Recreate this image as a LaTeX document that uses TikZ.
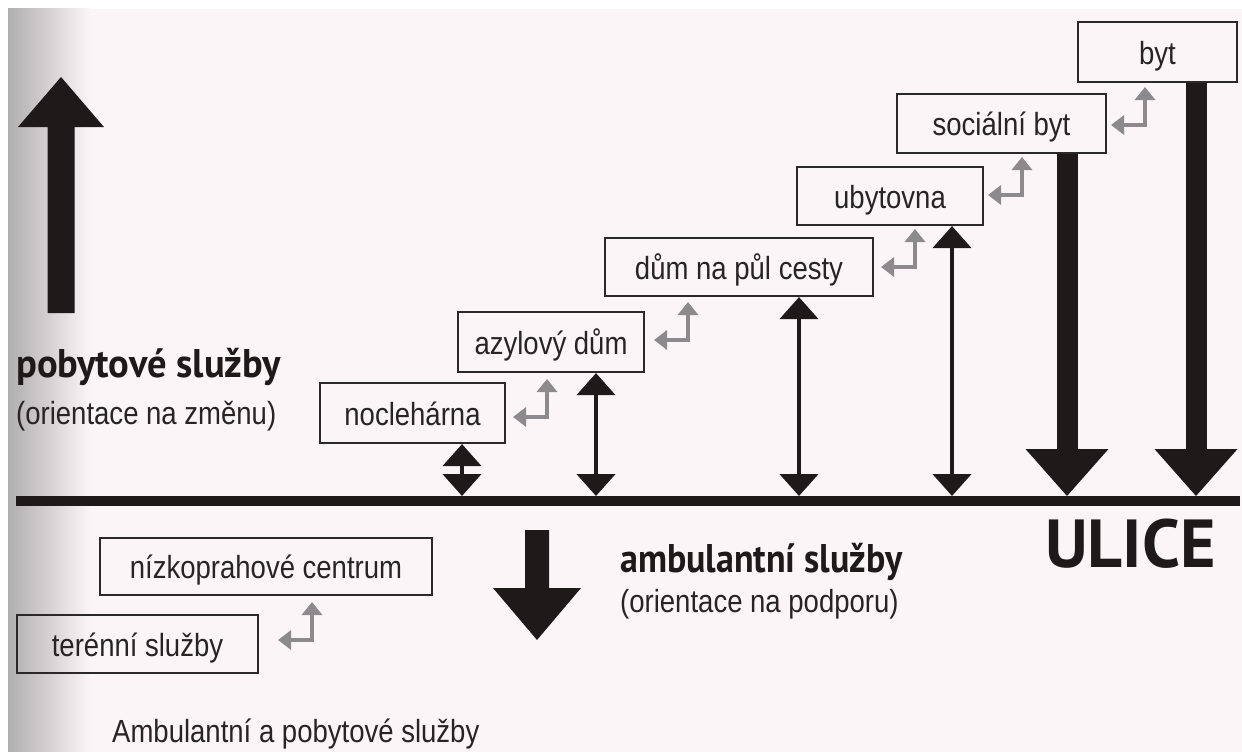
\documentclass[tikz,border=0pt]{standalone}
\usepackage{fontspec}
\setmainfont{Liberation Sans}
\newfontfamily\labelfont[FakeStretch=0.86]{Liberation Sans}
\newfontfamily\headfont[FakeStretch=0.9]{PT Sans}
\newfontfamily\ulicefont{PT Sans}
\usetikzlibrary{arrows.meta,calc}
\definecolor{bg}{RGB}{251,245,248}
\definecolor{ink}{RGB}{30,26,26}
\definecolor{boxline}{RGB}{42,40,40}
\definecolor{txt}{RGB}{40,36,36}
\definecolor{elbowgray}{RGB}{140,138,140}
\definecolor{edgegray}{RGB}{176,174,174}
\tikzset{
  svc/.style={draw=boxline, line width=2.2pt, inner sep=0pt, text=txt,
    font=\labelfont\fontsize{32}{34}\selectfont, text height=24pt, text depth=0pt},
  subtext/.style={inner sep=0pt, text=txt, font=\labelfont\fontsize{32}{34}\selectfont},
  headtext/.style={inner sep=0pt, text=ink, font=\headfont\bfseries\fontsize{40}{44}\selectfont},
  dbl/.style={draw=ink, line width=4.5pt,
    {Triangle[width=38pt,length=22pt]}-{Triangle[width=38pt,length=22pt]}},
  elb/.style={draw=elbowgray, line width=4pt,
    {Triangle[width=19pt,length=13pt]}-{Triangle[width=20pt,length=13pt]}},
  thick shaft/.style={draw=ink, line width=21pt},
  elbowarrow/.pic={\draw[elb] (-34,0) -- (0,0) -- (0,-38);}
}
\begin{document}
\begin{tikzpicture}[x=1pt,y=-1pt]
\useasboundingbox (0,0) rectangle (1242,752);
\fill[white] (0,0) rectangle (1242,752);
\fill[bg] (8,9) rectangle (1242,752);
\shade[left color=edgegray, right color=bg] (8,9) rectangle (90,752);

% left big up arrow
\fill[ink] (47.5,313) -- (47.5,127) -- (18,127) -- (61,77) -- (104,127) -- (74.5,127) -- (74.5,313) -- cycle;

% texts left
\node[headtext, anchor=base west] (pob) at (16,377) {\scalebox{1.07}[1]{pobytové služby}};
\node[subtext, anchor=base west] (pobsub) at (16,424) {(orientace na změnu)};

% boxes
\node[svc, minimum width=185pt, minimum height=60pt] (nocl) at (412.5,413) {noclehárna};
\node[svc, minimum width=186pt, minimum height=60pt] (azyl) at (551,342) {azylový dům};
\node[svc, minimum width=268pt, minimum height=58pt] (dum) at (739,267) {dům na půl cesty};
\node[svc, minimum width=186pt, minimum height=58pt] (ubyt) at (890,196) {ubytovna};
\node[svc, minimum width=209pt, minimum height=59pt] (soc) at (1001.5,123.5) {sociální byt};
\node[svc, minimum width=159pt, minimum height=60pt] (byt) at (1157.5,52) {byt};
\node[svc, minimum width=332pt, minimum height=57pt] (nizko) at (266,566.5) {nízkoprahové centrum};
\node[svc, minimum width=241pt, minimum height=58pt] (teren) at (137.5,644) {terénní služby};

% street line
\coordinate (ls) at (16,501);
\coordinate (le) at (1240,501);
\draw[ink, line width=10pt] (ls) -- (le);

% double arrows
\coordinate (g1) at (462,496);
\coordinate (g2) at (596,496);
\coordinate (g3) at (799,496);
\coordinate (g4) at (952,496);
\draw[dbl] (g1 |- nocl.south) -- (g1);
\draw[dbl] (g2 |- azyl.south) -- (g2);
\draw[dbl] (g3 |- dum.south) -- (g3);
\draw[dbl] (g4 |- ubyt.south) -- (g4);

% thick down arrows
\coordinate (h5) at (1067,449);
\coordinate (h6) at (1196,449);
\draw[thick shaft] (soc.south -| h5) -- (h5);
\fill[ink] ($(h5)+(-41.5,0)$) -- ($(h5)+(41.5,0)$) -- ($(h5)+(0,47)$) -- cycle;
\draw[thick shaft] (byt.south -| h6) -- (h6);
\fill[ink] ($(h6)+(-41.5,0)$) -- ($(h6)+(41.5,0)$) -- ($(h6)+(0,47)$) -- cycle;

% gray elbow arrows
\pic at (547,417) {elbowarrow};
\pic at (688,340) {elbowarrow};
\pic at (915,267) {elbowarrow};
\pic at (1022,195) {elbowarrow};
\pic at (1145,125) {elbowarrow};
\pic at (312,640) {elbowarrow};

% ambulant down arrow
\fill[ink] (525,530) -- (549,530) -- (549,588) -- (581,588) -- (537,640) -- (493,588) -- (525,588) -- cycle;

% right texts
\node[headtext, anchor=base west] (amb) at (620,572) {ambulantní služby};
\node[subtext, anchor=base west] (ambsub) at (620,612) {(orientace na podporu)};
\node[inner sep=0pt, text=ink, anchor=base west, font=\ulicefont\bfseries\fontsize{68}{70}\selectfont] (ulice) at (1045,567) {ULICE};

% caption
\node[inner sep=0pt, text=txt, anchor=base west, font=\labelfont\fontsize{32}{34}\selectfont] (cap) at (112,742) {Ambulantní a pobytové služby};
\end{tikzpicture}
\end{document}
